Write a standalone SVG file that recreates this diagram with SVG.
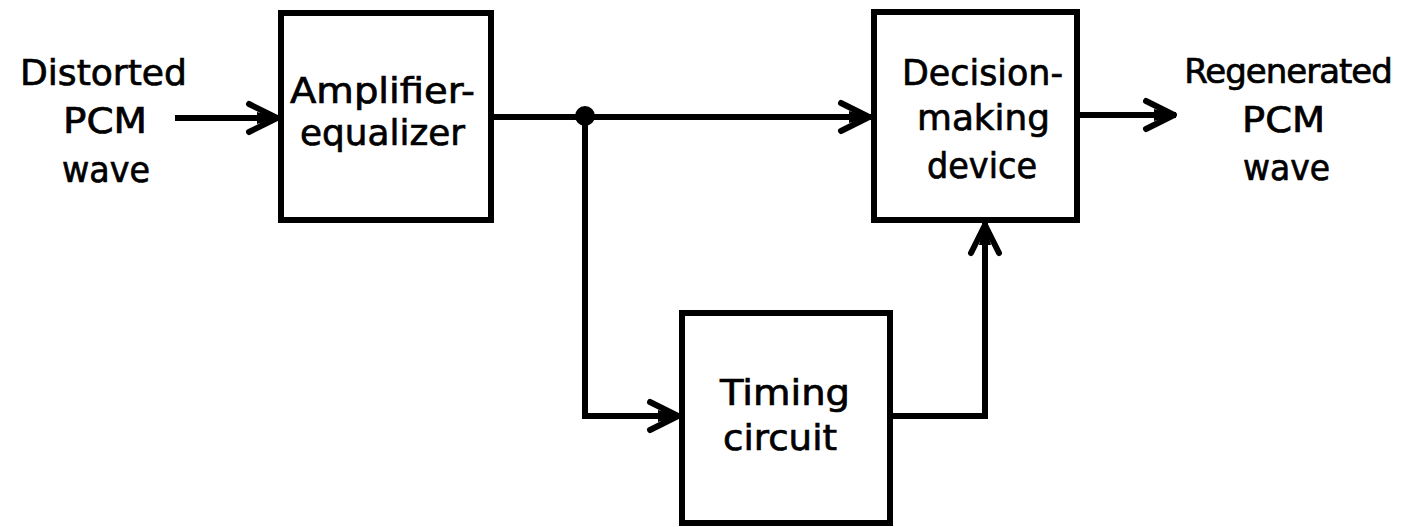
<svg xmlns="http://www.w3.org/2000/svg" width="1404" height="527" viewBox="0 0 1404 527">
  <style>
    .box { fill: #ffffff; stroke: #000000; stroke-width: 6; }
    .wire { fill: none; stroke: #000000; stroke-width: 6; stroke-linejoin: miter; }
    .lbl { font-family: "DejaVu Sans", "Liberation Sans", sans-serif; font-size: 36px; fill: #000000; stroke: #000000; stroke-width: 0.7; text-anchor: middle; }
  </style>
  <defs>
    <marker id="arrow" markerUnits="userSpaceOnUse" markerWidth="60" markerHeight="60" refX="0" refY="0" viewBox="-40 -30 60 60" orient="auto" overflow="visible">
      <path d="M -30 -14 L -2 0 L -30 14" fill="none" stroke="#000000" stroke-width="6" stroke-linejoin="round" stroke-linecap="round"/>
      <path d="M -22 -6 L 0 0 L -22 6 Z" fill="#000000"/>
    </marker>
  </defs>
  <rect width="1404" height="527" fill="#ffffff"/>

  <g id="connectors">
    <path class="wire" d="M175 118 H279" marker-end="url(#arrow)"/>
    <path class="wire" d="M491 117 H871" marker-end="url(#arrow)"/>
    <path class="wire" d="M1077 115 H1176" marker-end="url(#arrow)"/>
    <path class="wire" d="M585 117 V416 H680" marker-end="url(#arrow)"/>
    <path class="wire" d="M890 416 H985 V223" marker-end="url(#arrow)"/>
    <circle cx="585" cy="116" r="10" fill="#000000"/>
  </g>

  <g id="input-label">
    <text class="lbl" x="103.5" y="85" textLength="167" lengthAdjust="spacingAndGlyphs">Distorted</text>
    <text class="lbl" x="105" y="133" textLength="84" lengthAdjust="spacingAndGlyphs">PCM</text>
    <text class="lbl" x="106" y="182" textLength="88" lengthAdjust="spacingAndGlyphs">wave</text>
  </g>

  <g id="amplifier-equalizer">
    <rect class="box" x="281" y="13" width="210" height="207"/>
    <text class="lbl" x="382.5" y="103" textLength="185" lengthAdjust="spacingAndGlyphs">Amplifier-</text>
    <text class="lbl" x="382.5" y="145" textLength="165" lengthAdjust="spacingAndGlyphs">equalizer</text>
  </g>

  <g id="decision-making-device">
    <rect class="box" x="874" y="12" width="203" height="208"/>
    <text class="lbl" x="982.5" y="85" textLength="161" lengthAdjust="spacingAndGlyphs">Decision-</text>
    <text class="lbl" x="983.5" y="130" textLength="133" lengthAdjust="spacingAndGlyphs">making</text>
    <text class="lbl" x="982" y="178" textLength="110" lengthAdjust="spacingAndGlyphs">device</text>
  </g>

  <g id="timing-circuit">
    <rect class="box" x="682" y="313" width="208" height="210"/>
    <text class="lbl" x="785" y="405" textLength="130" lengthAdjust="spacingAndGlyphs">Timing</text>
    <text class="lbl" x="780" y="450" textLength="114" lengthAdjust="spacingAndGlyphs">circuit</text>
  </g>

  <g id="output-label">
    <text class="lbl" x="1288" y="83" style="font-size:34px; letter-spacing:-1px">Regenerated</text>
    <text class="lbl" x="1283.5" y="132" textLength="83" lengthAdjust="spacingAndGlyphs">PCM</text>
    <text class="lbl" x="1286.5" y="180" textLength="87" lengthAdjust="spacingAndGlyphs">wave</text>
  </g>
</svg>
